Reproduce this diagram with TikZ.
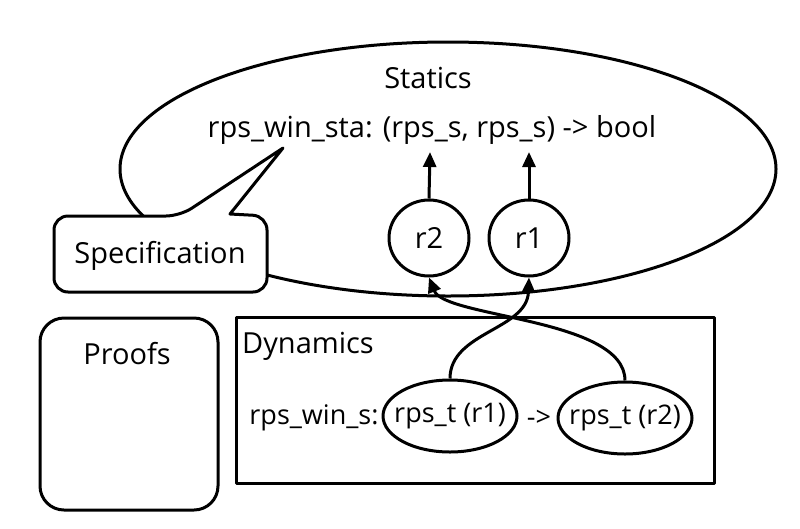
\documentclass[tikz,border=0pt]{standalone}
\usepackage{fontspec}
\setmainfont{Open Sans}
\usetikzlibrary{shapes.geometric,arrows.meta}
\begin{document}
\begin{tikzpicture}[x=1pt,y=-1pt,
  line width=3pt, line join=round,
  every node/.style={font=\fontsize{29}{34}\selectfont},
  small/.style={font=\fontsize{27}{32}\selectfont},
  txt/.style={inner sep=0pt},
  oval/.style={draw, ellipse, inner sep=0pt},
  arr/.style={-{Triangle[length=15pt,width=13pt]}, line width=3pt}]
\useasboundingbox (0,0) rectangle (800,528);
% Statics ellipse
\node[oval, minimum width=656pt, minimum height=254pt] (statics) at (448,169) {};
\node[txt] (stitle) at (428,78) {Statics};
\node[txt] (sig) at (432,130) {rps\_win\_sta: (rps\_s, rps\_s) -> bool};
\coordinate (t2) at (430,152);
\coordinate (t1) at (529,152);
% circles
\node[oval, fill=white, minimum width=80pt, minimum height=76pt] (r2) at (429,238) {r2};
\node[oval, fill=white, minimum width=80pt, minimum height=76pt] (r1) at (529,238) {r1};
\draw[arr] (r2.north) -- (t2);
\draw[arr] (r1.north) -- (t1);
% Specification callout
\draw[fill=white, rounded corners=14pt]
  (54,260) -- (54,216) -- (180,216) [sharp corners]-- (283,148) -- (230,214) [rounded corners=14pt]-- (267,216) -- (267,292) -- (54,292) -- cycle;
\node[txt] (spec) at (160,256) {Specification};
% Proofs
\node[draw, rounded corners=24pt, minimum width=178pt, minimum height=192pt] (proofs) at (129,414) {};
\node[txt] (ptitle) at (127,354) {Proofs};
% Dynamics
\node[draw, minimum width=478pt, minimum height=166pt] (dyn) at (475,400) {};
\node[txt] (dtitle) at (308,346) {Dynamics};
\node[txt, small] (ws) at (314,418) {rps\_win\_s:};
\node[oval, small, inner xsep=-9pt, minimum width=134pt, minimum height=72pt] (e1) at (450,416) {rps\_t (r1)};
\node[txt, small] (to) at (539,418) {->};
\node[oval, small, inner xsep=-9pt, minimum width=134pt, minimum height=72pt] (e2) at (625,418) {rps\_t (r2)};
% connectors
\draw[arr] (e1.north) .. controls (450,332) and (527,330) .. (r1.south);
\draw[arr] (e2.north) .. controls (625,318) and (445,318) .. (r2.south);
\end{tikzpicture}
\end{document}
